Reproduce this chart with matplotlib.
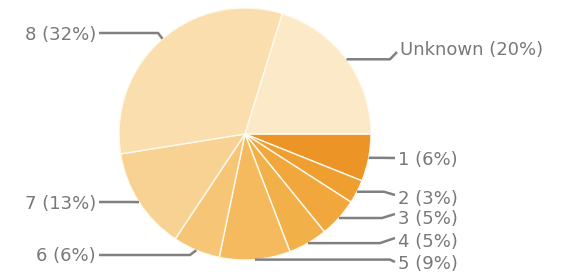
import numpy as np
import matplotlib
matplotlib.use("Agg")
import matplotlib.pyplot as plt

labels = ["1", "2", "3", "4", "5", "6", "7", "8", "Unknown"]
shares = [6, 3, 5, 5, 9, 6, 13, 32, 20]
colors = ["#ec9425", "#ef9e30", "#f1a73b", "#f2b049", "#f4ba5d",
          "#f6c676", "#f8d292", "#fadeae", "#fce9c8"]

W, H = 583, 277
# label layout in pixel coords: text x, text y (from top), line end y, knee x, side
label_pos = [(398, 160, 158, 382, "r"), (398, 199, 195, 384, "r"),
             (398, 219, 214, 382, "r"), (398, 242, 238, 380, "r"),
             (398, 264, 262, 390, "r"), (96, 256, 255, 190, "l"),
             (96, 204, 202, 132, "l"), (96, 35, 33, 158, "l"),
             (400, 50, 52, 390, "r")]

fig = plt.figure(figsize=(W / 100, H / 100), dpi=100)
ax = fig.add_axes([0, 0, 1, 1])

cx, cy, r = 245, H - 134, 126
wedges, _ = ax.pie(shares, colors=colors, startangle=0, counterclock=False,
                   center=(cx, cy), radius=r, frame=True,
                   wedgeprops=dict(edgecolor="#fffaf0", linewidth=1.0))
ax.set_xlim(0, W)
ax.set_ylim(0, H)
ax.axis("off")

for w, lab, s, (tx, ty, ly, kx, side) in zip(wedges, labels, shares, label_pos):
    mid = np.deg2rad((w.theta1 + w.theta2) / 2)
    x0 = cx + r * np.cos(mid)
    y0 = cy + r * np.sin(mid)
    ty, ly = H - ty, H - ly
    if side == "r":
        xs = [x0, kx, tx - 3]
        ys = [y0, y0, ly]
        ha = "left"
    else:
        xs = [x0, kx, tx + 3]
        ys = [y0, ly, ly]
        ha = "right"
    ax.plot(xs, ys, color="#808080", lw=1.8, solid_capstyle="butt")
    ax.text(tx, ty, f"{lab} ({s}%)", ha=ha, va="center",
            fontsize=13, color="#787878")

fig.savefig("out.png", dpi=100)
